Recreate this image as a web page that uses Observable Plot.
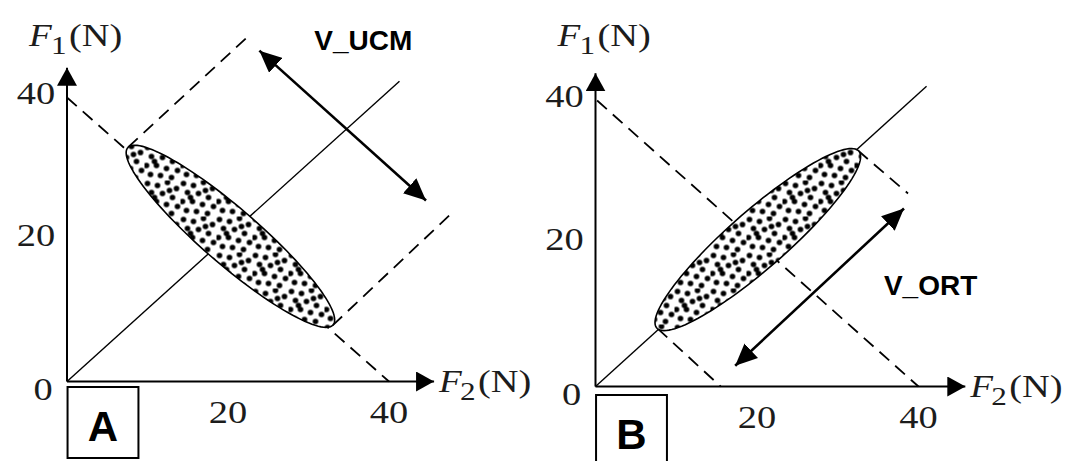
<!DOCTYPE html>
<html>
<head>
<meta charset="utf-8">
<script src="https://cdn.jsdelivr.net/npm/d3@7"></script>
<script src="https://cdn.jsdelivr.net/npm/@observablehq/plot@0.6"></script>
<style>
  html, body { margin: 0; padding: 0; background: #fff; }
  #fig { position: relative; width: 1069px; height: 461px; overflow: hidden; background: #fff; }
  #fig svg { position: absolute; top: 0; }
</style>
</head>
<body>
<div id="fig"></div>
<script>
// ---- Panels -------------------------------------------------------------
const panels = ["A", "B"];
const vectorNames = ["V_UCM", "V_ORT"];

// ---- Force axes (N) -----------------------------------------------------
const tickValues = [20, 40];
const originLabel = "0";
const axisEndA = [45.6, 44.2];   // [F2 arrow end, F1 arrow end]
const axisEndB = [45.8, 43.8];

// ---- Solid F1 = F2 line (end point) ------------------------------------
const diagEndA = [41.3, 42.3];
const diagEndB = [41.0, 42.0];

// ---- Ellipse of force pairs: centre, half-lengths, long-axis angle (deg)
const ellipseCentreA = [20.3, 20.45];
const ellipseCentreB = [20.1, 20.55];
const ellipseHalfA = [17.85, 3.7];
const ellipseHalfB = [17.6, 3.8];
const ellipseAngle = [-44.7, 45];

// ---- Dashed construction lines [[x1, y1], [x2, y2]] --------------------
const dashesA = [
  [[0, 40], [40, 0]],
  [[7.6, 33.0], [22.2, 48.3]],
  [[33.0, 7.9], [47.5, 23.4]]
];
const dashesB = [
  [[0.2, 40], [40, 0]],
  [[7.7, 8.1], [15.5, 0]],
  [[32.5, 33.0], [38.7, 27.0]]
];

// ---- Double-headed variability arrows ----------------------------------
const arrowA = [[23.9, 46.6], [44.6, 25.5]];
const arrowB = [[38.2, 24.9], [17.3, 2.9]];

// ---- Where the arrow captions sit (data units) --------------------------
const captionAtA = [36.8, 47.9];
const captionAtB = [41.5, 14.1];

// ---- Irregular stipple used to fill the ellipse (one 36×36 tile) -------
const stippleTile = [
  [3, 3], [13, 5], [23, 2], [32, 8], [7, 12], [18, 13], [28, 17], [2, 21],
  [12, 21], [22, 24], [33, 26], [6, 30], [16, 31], [27, 33], [10, 17], [25, 10]
];

const serif = "'Liberation Serif', 'Times New Roman', serif";
const sans = "'Liberation Sans', Arial, sans-serif";
const ink = "#000";
const textInk = "#1c1c1c";
const serifStretch = 1.2;  // the serif lettering is set slightly wide

// filled triangular arrow head, oriented along the path
function head(len, half) {
  return (color) => {
    const m = d3.create("svg:marker")
      .attr("viewBox", `${-len} ${-half} ${len} ${2 * half}`)
      .attr("markerWidth", len)
      .attr("markerHeight", 2 * half)
      .attr("markerUnits", "userSpaceOnUse")
      .attr("orient", "auto-start-reverse")
      .attr("refX", 0)
      .attr("refY", 0);
    m.append("path")
      .attr("d", `M${-len},${-half}L0,0L${-len},${half}Z`)
      .attr("fill", color)
      .attr("stroke", "none");
    return m.node();
  };
}

// outline of an ellipse given its centre, half-lengths and orientation
function ellipseOutline([cx, cy], [a, b], angleDeg) {
  const th = angleDeg * Math.PI / 180;
  return d3.range(0, 360, 3).map(t => {
    const r = t * Math.PI / 180;
    return [
      cx + a * Math.cos(r) * Math.cos(th) - b * Math.sin(r) * Math.sin(th),
      cy + a * Math.cos(r) * Math.sin(th) + b * Math.sin(r) * Math.cos(th)
    ];
  });
}

const panelSetup = [
  {left: 0, width: 545, xRange: [66.5, 388.5], yRange: [381, 97],
   axisEnd: axisEndA, diag: diagEndA, centre: ellipseCentreA, half: ellipseHalfA,
   dashes: dashesA, arrow: arrowA, captionAt: captionAtA, f1dy: -22},
  {left: 530, width: 539, xRange: [65, 388], yRange: [386, 100],
   axisEnd: axisEndB, diag: diagEndB, centre: ellipseCentreB, half: ellipseHalfB,
   dashes: dashesB, arrow: arrowB, captionAt: captionAtB, f1dy: -27}
];

const fig = document.getElementById("fig");

panels.forEach((id, i) => {
  const s = panelSetup[i];
  const ellipse = ellipseOutline(s.centre, s.half, ellipseAngle[i]);
  const axes = [[[0, 0], [s.axisEnd[0], 0]], [[0, 0], [0, s.axisEnd[1]]]];
  const ax = s.axisEnd;
  const label = {textAnchor: "start", lineAnchor: "bottom", fontFamily: serif, fill: textInk};

  const chart = Plot.plot({
    width: s.width,
    height: 461,
    margin: 0,
    x: {domain: [0, 40], range: s.xRange, axis: null},
    y: {domain: [0, 40], range: s.yRange, axis: null},
    style: {background: "transparent", overflow: "visible"},
    marks: [
      // construction lines
      Plot.link(s.dashes, {
        x1: d => d[0][0], y1: d => d[0][1], x2: d => d[1][0], y2: d => d[1][1],
        stroke: ink, strokeWidth: 1.8, strokeDasharray: "13,8"
      }),
      // F1 = F2 line
      Plot.link([s.diag], {
        x1: 0, y1: 0, x2: d => d[0], y2: d => d[1],
        stroke: ink, strokeWidth: 1.4
      }),
      // stippled ellipse of force pairs
      Plot.line(ellipse, {
        x: d => d[0], y: d => d[1], curve: "linear-closed",
        fill: `url(#stipple-${id})`, stroke: ink, strokeWidth: 1.6
      }),
      // variability arrow
      Plot.link([s.arrow], {
        x1: d => d[0][0], y1: d => d[0][1], x2: d => d[1][0], y2: d => d[1][1],
        stroke: ink, strokeWidth: 2.6,
        markerStart: head(22, 10), markerEnd: head(22, 10)
      }),
      // arrowed axes
      Plot.link(axes, {
        x1: d => d[0][0], y1: d => d[0][1], x2: d => d[1][0], y2: d => d[1][1],
        stroke: ink, strokeWidth: 2, markerEnd: head(18, 10)
      }),
      // tick labels
      Plot.text(tickValues, {
        x: d => d, y: 0, dy: 31, text: d => String(d),
        fontSize: 32, fontFamily: serif, fill: textInk
      }),
      Plot.text(tickValues, {
        x: 0, y: d => d, dx: -31, dy: -4, text: d => String(d),
        fontSize: 32, fontFamily: serif, fill: textInk
      }),
      Plot.text([originLabel], {
        x: 0, y: 0, dx: -24, dy: 8, text: d => d,
        fontSize: 32, fontFamily: serif, fill: textInk
      }),
      // F1(N) axis title
      Plot.text(["F"], {
        ...label, x: 0, y: ax[1], dx: -38, dy: s.f1dy, text: d => d,
        fontSize: 31, fontStyle: "italic"
      }),
      Plot.text(["1"], {
        ...label, x: 0, y: ax[1], dx: -16, dy: s.f1dy + 8, text: d => d, fontSize: 26
      }),
      Plot.text(["(N)"], {
        ...label, x: 0, y: ax[1], dx: 2, dy: s.f1dy, text: d => d, fontSize: 32
      }),
      // F2(N) axis title
      Plot.text(["F"], {
        ...label, x: ax[0], y: 0, dx: 5, dy: 10, text: d => d,
        fontSize: 31, fontStyle: "italic"
      }),
      Plot.text(["2"], {
        ...label, x: ax[0], y: 0, dx: 26, dy: 18, text: d => d, fontSize: 26
      }),
      Plot.text(["(N)"], {
        ...label, x: ax[0], y: 0, dx: 44, dy: 10, text: d => d, fontSize: 32
      }),
      // arrow caption
      Plot.text([vectorNames[i]], {
        x: s.captionAt[0], y: s.captionAt[1], text: d => d,
        fontSize: 28, fontWeight: "bold", fontFamily: sans, fill: "#000"
      }),
      // panel letter in its box
      Plot.dot([id], {
        x: 0, y: 0, dx: 36, dy: 41 + i * 3, symbol: "square", r: 40,
        fill: "#fff", stroke: ink, strokeWidth: 2
      }),
      Plot.text([id], {
        x: 0, y: 0, dx: 36, dy: 46 + i * 3, text: d => d,
        fontSize: 42, fontWeight: "bold", fontFamily: sans, fill: "#000"
      })
    ]
  });

  const svg = d3.select(chart);

  // widen the serif lettering a little around each anchor
  svg.selectAll("g[font-family*='Serif'] text").each(function () {
    const t = this.getAttribute("transform") || "";
    this.setAttribute("transform", `${t} scale(${serifStretch},1)`);
  });

  // stipple pattern referenced by the ellipse fill
  const defs = svg.insert("defs", ":first-child");
  const pat = defs.append("pattern")
    .attr("id", `stipple-${id}`)
    .attr("patternUnits", "userSpaceOnUse")
    .attr("width", 36).attr("height", 36);
  pat.append("rect").attr("width", 36).attr("height", 36).attr("fill", "#fff");
  stippleTile.forEach(([cx, cy]) => {
    pat.append("circle").attr("cx", cx).attr("cy", cy).attr("r", 2.8).attr("fill", "#000");
  });

  chart.style.left = `${s.left}px`;
  fig.appendChild(chart);
});
</script>
</body>
</html>
